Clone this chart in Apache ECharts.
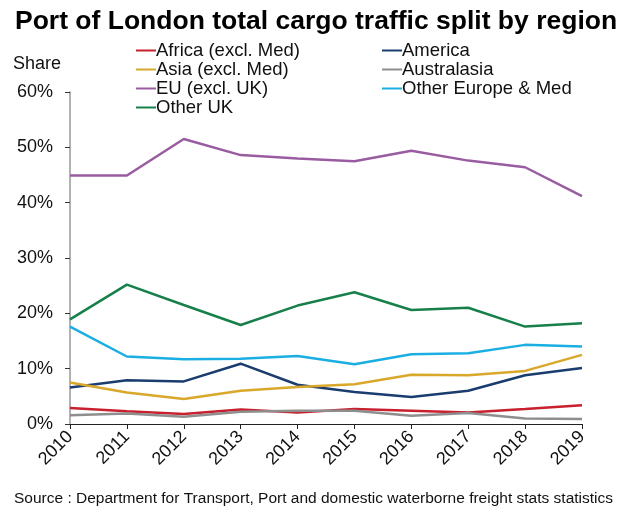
<!DOCTYPE html>
<html>
<head>
<meta charset="utf-8">
<script src="https://cdn.jsdelivr.net/npm/echarts@6/dist/echarts.min.js"></script>
<style>
  html, body { margin: 0; padding: 0; background: #fff; }
  #chart { width: 627px; height: 506px; }
</style>
</head>
<body>
<div id="chart"></div>
<script>
// Port of London cargo share by region of origin/destination, % of total
var years = ['2010', '2011', '2012', '2013', '2014', '2015', '2016', '2017', '2018', '2019'];
var africa      = [2.9, 2.3, 1.8, 2.6, 2.1, 2.7, 2.4, 2.1, 2.7, 3.4];
var america     = [6.6, 7.9, 7.7, 10.9, 7.1, 5.8, 4.9, 6.0, 8.8, 10.1];
var asia        = [7.5, 5.7, 4.5, 6.0, 6.7, 7.2, 8.9, 8.8, 9.6, 12.5];
var australasia = [1.6, 1.9, 1.3, 2.2, 2.4, 2.4, 1.5, 2.0, 1.0, 0.9];
var eu          = [44.9, 44.9, 51.5, 48.6, 48.0, 47.5, 49.4, 47.6, 46.4, 41.2];
var otherEurope = [17.6, 12.2, 11.7, 11.8, 12.3, 10.8, 12.6, 12.8, 14.3, 14.0];
var otherUK     = [18.9, 25.2, 21.5, 17.9, 21.4, 23.8, 20.6, 21.0, 17.6, 18.2];
var yTicks = [0, 10, 20, 30, 40, 50, 60];

var seriesDefs = [
  { name: 'Africa (excl. Med)', data: africa, color: '#C8202F' },
  { name: 'America', data: america, color: '#1B3C6E' },
  { name: 'Asia (excl. Med)', data: asia, color: '#D9A82B' },
  { name: 'Australasia', data: australasia, color: '#8E8E8E' },
  { name: 'EU (excl. UK)', data: eu, color: '#9A5CA0' },
  { name: 'Other Europe & Med', data: otherEurope, color: '#1BAEE2' },
  { name: 'Other UK', data: otherUK, color: '#17804A' }
];

var font = 'Liberation Sans, Arial, sans-serif';
var chart = echarts.init(document.getElementById('chart'));

var legendCommon = {
  orient: 'vertical',
  itemWidth: 20,
  itemHeight: 2,
  itemGap: 0,
  icon: 'rect',
  textStyle: { fontFamily: font, fontSize: 18.5, color: '#111', padding: [0, 0, 0, -5] }
};

chart.setOption({
  animation: false,
  backgroundColor: '#fff',
  title: [
    {
      text: 'Port of London total cargo traffic split by region',
      left: 10, top: 3,
      textStyle: { fontFamily: font, fontSize: 26.5, fontWeight: 'bold', color: '#000' }
    },
    {
      text: 'Share',
      left: 8, top: 50,
      textStyle: { fontFamily: font, fontSize: 18, fontWeight: 'normal', color: '#111' }
    },
    {
      text: 'Source : Department for Transport, Port and domestic waterborne freight stats statistics',
      left: 'center', top: 486,
      textStyle: { fontFamily: font, fontSize: 15.5, fontWeight: 'normal', color: '#111' }
    }
  ],
  legend: [
    Object.assign({ left: 131, top: 36, data: [seriesDefs[0].name, seriesDefs[2].name, seriesDefs[4].name, seriesDefs[6].name] }, legendCommon),
    Object.assign({ left: 377, top: 36, data: [seriesDefs[1].name, seriesDefs[3].name, seriesDefs[5].name] }, legendCommon)
  ],
  grid: { left: 70, right: 45, top: 92, bottom: 82 },
  xAxis: {
    type: 'category',
    data: years,
    boundaryGap: false,
    axisLine: { lineStyle: { color: '#222', width: 1 } },
    axisTick: { alignWithLabel: true, length: 5, lineStyle: { color: '#222' } },
    axisLabel: { rotate: 45, fontFamily: font, fontSize: 18, color: '#111', margin: 10 },
    splitLine: { show: false }
  },
  yAxis: {
    type: 'value',
    min: yTicks[0],
    max: yTicks[yTicks.length - 1],
    interval: yTicks[1] - yTicks[0],
    axisLine: { show: true, lineStyle: { color: '#999', width: 1.5 } },
    axisTick: { show: true, length: 5, lineStyle: { color: '#333' } },
    axisLabel: { formatter: '{value}%', fontFamily: font, fontSize: 18, color: '#111', margin: 17 },
    splitLine: { show: false }
  },
  series: seriesDefs.map(function (s) {
    return {
      name: s.name,
      type: 'line',
      data: s.data,
      symbol: 'none',
      color: s.color,
      lineStyle: { color: s.color, width: 2.5 }
    };
  })
});
</script>
</body>
</html>
